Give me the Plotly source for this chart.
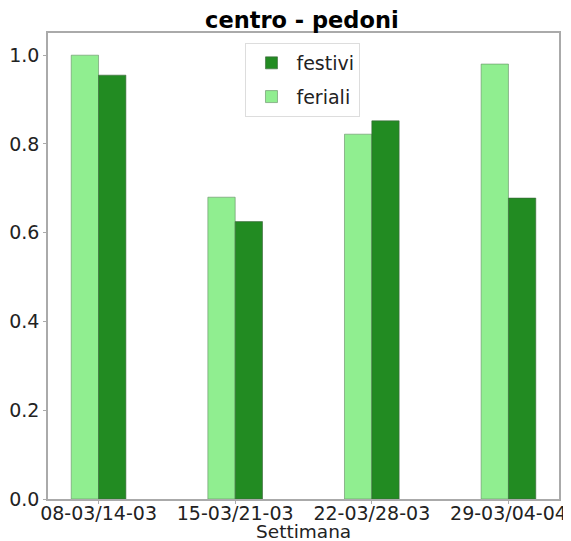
import plotly.graph_objects as go

categories = ["08-03/14-03", "15-03/21-03", "22-03/28-03", "29-03/04-04"]
feriali = [1.0, 0.68, 0.822, 0.98]
festivi = [0.955, 0.625, 0.852, 0.678]
yticks = [0, 0.2, 0.4, 0.6, 0.8, 1.0]
yticklabels = ["0.0", "0.2", "0.4", "0.6", "0.8", "1.0"]

pos = list(range(len(categories)))
w = 0.2

fig = go.Figure()
fig.add_trace(go.Bar(
    x=[p - w / 2 for p in pos], y=feriali, width=w, name="feriali",
    marker=dict(color="#90EE90", line=dict(color="rgba(100,140,100,0.6)", width=1)),
    legendrank=2, legendgroup="b",
))
fig.add_trace(go.Bar(
    x=[p + w / 2 for p in pos], y=festivi, width=w, name="festivi",
    marker=dict(color="#228B22", line=dict(color="rgba(60,100,60,0.6)", width=1)),
    legendrank=1, legendgroup="a",
))

font = "DejaVu Sans, Liberation Sans, sans-serif"
# the page body adds an 8px margin, so the figure is 8px smaller than the window
fig.update_layout(
    width=563, height=533,
    margin=dict(l=40, r=12, t=25, b=42),
    paper_bgcolor="white", plot_bgcolor="white",
    barmode="overlay",
    font=dict(family=font, size=19, color="#222"),
    title=dict(text="<b>centro - pedoni</b>", x=0.522, xanchor="center", y=0.977, yanchor="middle",
               font=dict(size=22.5, color="black")),
    showlegend=True,
    legend=dict(x=0.499, xanchor="center", y=0.9785, yanchor="top",
                bgcolor="white", bordercolor="#ddd", borderwidth=1,
                font=dict(size=19), itemwidth=40, tracegroupgap=6),
    xaxis=dict(range=[-0.37, 3.37], tickvals=pos, ticktext=categories,
               showgrid=False, zeroline=False, showline=True, mirror=True,
               linecolor="#aaa", linewidth=1.5, ticks="outside", ticklen=3,
               tickcolor="#aaa", automargin=False, ticklabelstandoff=-7),
    yaxis=dict(range=[0, 1.05], tickvals=yticks, ticktext=yticklabels,
               showgrid=False, zeroline=False, showline=True, mirror=True,
               linecolor="#aaa", linewidth=1.5, ticks="outside", ticklen=3,
               tickcolor="#aaa", automargin=False),
    annotations=[dict(text="Settimana", xref="paper", yref="paper", x=0.5, y=-0.07,
                      xanchor="center", yanchor="middle", showarrow=False,
                      font=dict(size=18.5, color="#222"))],
)

fig.write_html("out.html")
